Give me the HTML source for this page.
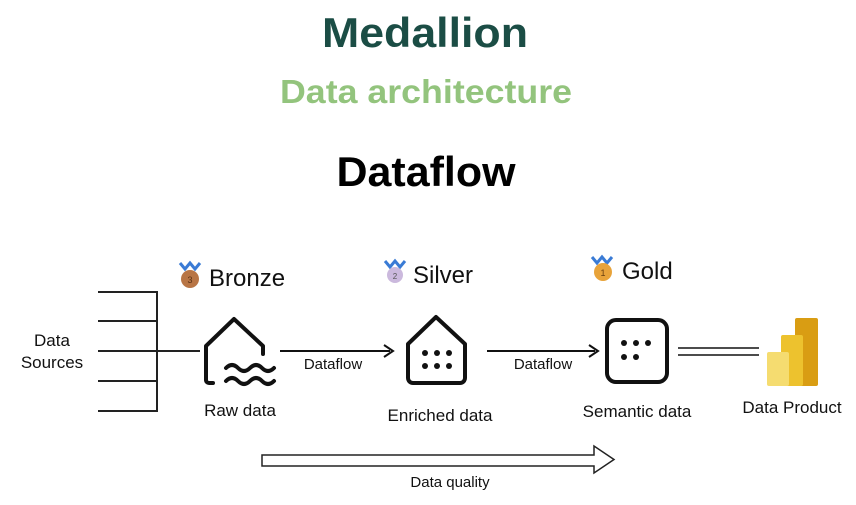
<!DOCTYPE html>
<html><head><meta charset="utf-8"><style>html,body{margin:0;padding:0;background:#fff}svg{display:block}</style></head>
<body>
<svg width="856" height="505" viewBox="0 0 856 505" xmlns="http://www.w3.org/2000/svg" font-family="Liberation Sans, Arial, sans-serif">
<text x="425" y="47" text-anchor="middle" font-size="42" font-weight="bold" fill="#1b4d45" textLength="206" lengthAdjust="spacingAndGlyphs">Medallion</text>
<text x="426" y="103" text-anchor="middle" font-size="33" font-weight="bold" fill="#93c47d" textLength="292" lengthAdjust="spacingAndGlyphs">Data architecture</text>
<text x="426" y="186" text-anchor="middle" font-size="42" font-weight="bold" fill="#000" textLength="179" lengthAdjust="spacingAndGlyphs">Dataflow</text>

<!-- sources -->
<g stroke="#222" stroke-width="2" fill="none">
<path d="M98 292H157M98 321H157M98 351H200M98 381H157M98 411H157M157 291V412"/>
</g>
<text x="52" y="346" text-anchor="middle" font-size="17" fill="#111">Data</text>
<text x="52" y="368" text-anchor="middle" font-size="17" fill="#111">Sources</text>

<!-- medals -->
<g>
<path d="M180 263l5 6 5-6 5 6 5-6" stroke="#3a7bd5" stroke-width="3" fill="none"/>
<circle cx="190" cy="279" r="9" fill="#b87545"/><text x="190" y="283" text-anchor="middle" font-size="9" fill="#5a3215">3</text>
<path d="M385 261l5 6 5-6 5 6 5-6" stroke="#3a7bd5" stroke-width="3" fill="none"/>
<circle cx="395" cy="275" r="8" fill="#cbb9dd"/><text x="395" y="279" text-anchor="middle" font-size="8" fill="#555">2</text>
<path d="M592 257l5 6 5-6 5 6 5-6" stroke="#3a7bd5" stroke-width="3" fill="none"/>
<circle cx="603" cy="272" r="9" fill="#e8a33a"/><text x="603" y="276" text-anchor="middle" font-size="9" fill="#6a4010">1</text>
</g>
<text x="209" y="286" font-size="24" fill="#111">Bronze</text>
<text x="413" y="283" font-size="24" fill="#111">Silver</text>
<text x="622" y="279" font-size="24" fill="#111">Gold</text>

<!-- bronze house -->
<g stroke="#111" stroke-width="4" fill="none" stroke-linejoin="round" stroke-linecap="round">
<path d="M213 383H209a3 3 0 0 1-3-3V346l28-27 29 27v8"/>
<path d="M226 368q6-6 12 0q6 6 12 0q6-6 12 0q6 6 12 0"/>
<path d="M226 381q6-6 12 0q6 6 12 0q6-6 12 0q6 6 12 0"/>
</g>
<text x="240" y="416" text-anchor="middle" font-size="17" fill="#111">Raw data</text>

<!-- arrow 1 -->
<path d="M280 351H390" stroke="#111" stroke-width="2"/><path d="M384 345l9 6-9 6" stroke="#111" stroke-width="2" fill="none"/>
<text x="333" y="369" text-anchor="middle" font-size="15" fill="#111">Dataflow</text>

<!-- silver house -->
<path d="M408 344l28-27 29 27v34a5 5 0 0 1-5 5h-47a5 5 0 0 1-5-5z" stroke="#111" stroke-width="4" fill="none" stroke-linejoin="round"/>
<g fill="#111"><circle cx="425" cy="353" r="3"/><circle cx="437" cy="353" r="3"/><circle cx="449" cy="353" r="3"/><circle cx="425" cy="366" r="3"/><circle cx="437" cy="366" r="3"/><circle cx="449" cy="366" r="3"/></g>
<text x="440" y="421" text-anchor="middle" font-size="17" fill="#111">Enriched data</text>

<!-- arrow 2 -->
<path d="M487 351H595" stroke="#111" stroke-width="2"/><path d="M589 345l9 6-9 6" stroke="#111" stroke-width="2" fill="none"/>
<text x="543" y="369" text-anchor="middle" font-size="15" fill="#111">Dataflow</text>

<!-- gold box -->
<rect x="607" y="320" width="60" height="62" rx="9" stroke="#111" stroke-width="4" fill="none"/>
<g fill="#111"><circle cx="624" cy="343" r="3"/><circle cx="636" cy="343" r="3"/><circle cx="648" cy="343" r="3"/><circle cx="624" cy="357" r="3"/><circle cx="636" cy="357" r="3"/></g>
<text x="637" y="417" text-anchor="middle" font-size="17" fill="#111">Semantic data</text>

<!-- double line -->
<path d="M678 348H759M678 355H759" stroke="#111" stroke-width="1.5"/>

<!-- power bi -->
<rect x="795" y="318" width="23" height="68" rx="2" fill="#d99d13"/>
<rect x="781" y="335" width="22" height="51" rx="2" fill="#edc22e"/>
<rect x="767" y="352" width="22" height="34" rx="2" fill="#f5dc70"/>
<text x="792" y="413" text-anchor="middle" font-size="17" fill="#111">Data Product</text>

<!-- data quality arrow -->
<path d="M262 455H594V446L614 459.5L594 473V466H262Z" stroke="#222" stroke-width="1.5" fill="#fff"/>
<text x="450" y="487" text-anchor="middle" font-size="15" fill="#111">Data quality</text>
</svg>
</body></html>
